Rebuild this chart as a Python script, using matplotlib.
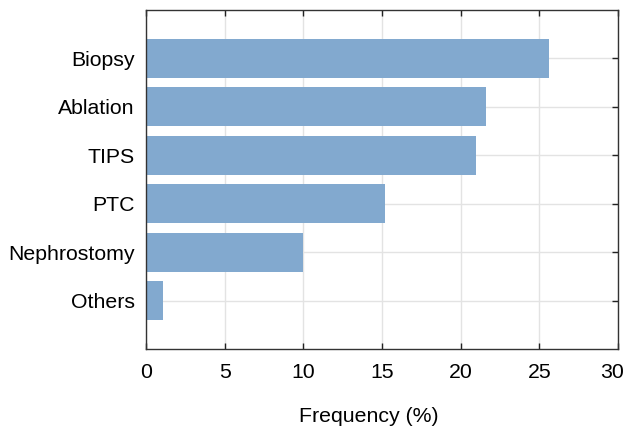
import matplotlib
matplotlib.use("Agg")
import matplotlib.pyplot as plt
import matplotlib.transforms as mtransforms
import numpy as np

plt.rcParams["font.family"] = ["Liberation Sans", "DejaVu Sans"]

# procedures, top to bottom
categories = ["Biopsy", "Ablation", "TIPS", "PTC", "Nephrostomy", "Others"]
frequency = [25.6, 21.6, 21.0, 15.2, 10.0, 1.1]
x_ticks = [0, 5, 10, 15, 20, 25, 30]

fig = plt.figure(figsize=(6.26, 4.28), dpi=100)
ax = fig.add_axes([146 / 626, 1 - 349 / 428, (618 - 146) / 626, (349 - 10) / 428])

ypos = np.arange(1, len(categories) + 1)
ax.barh(ypos, frequency, height=0.8, color="#82a9cf", zorder=2)

ax.set_ylim(len(categories) + 1, 0)
ax.set_xlim(0, 30)
ax.set_xticks(x_ticks)
ax.set_yticks(ypos)
ax.set_yticklabels(categories)
ax.grid(True, color="#e3e3e3", linewidth=1, zorder=0)
ax.set_axisbelow(True)
ax.tick_params(direction="in", top=True, right=True, length=4, width=1,
               labelsize=15.3, colors="#222222", labelcolor="black")
ax.tick_params(axis="x", pad=10)
ax.tick_params(axis="y", pad=8)
for s in ax.spines.values():
    s.set_color("#333333")
    s.set_linewidth(1)
ax.set_xlabel("Frequency (%)", fontsize=15.3)
ax.xaxis.set_label_coords(0.472, -0.17)

# keep the last x label inside the canvas
last = ax.get_xticklabels()[-1]
last.set_transform(last.get_transform() + mtransforms.ScaledTranslation(-4 / 72, 0, fig.dpi_scale_trans))

fig.savefig("out.png", dpi=100)
